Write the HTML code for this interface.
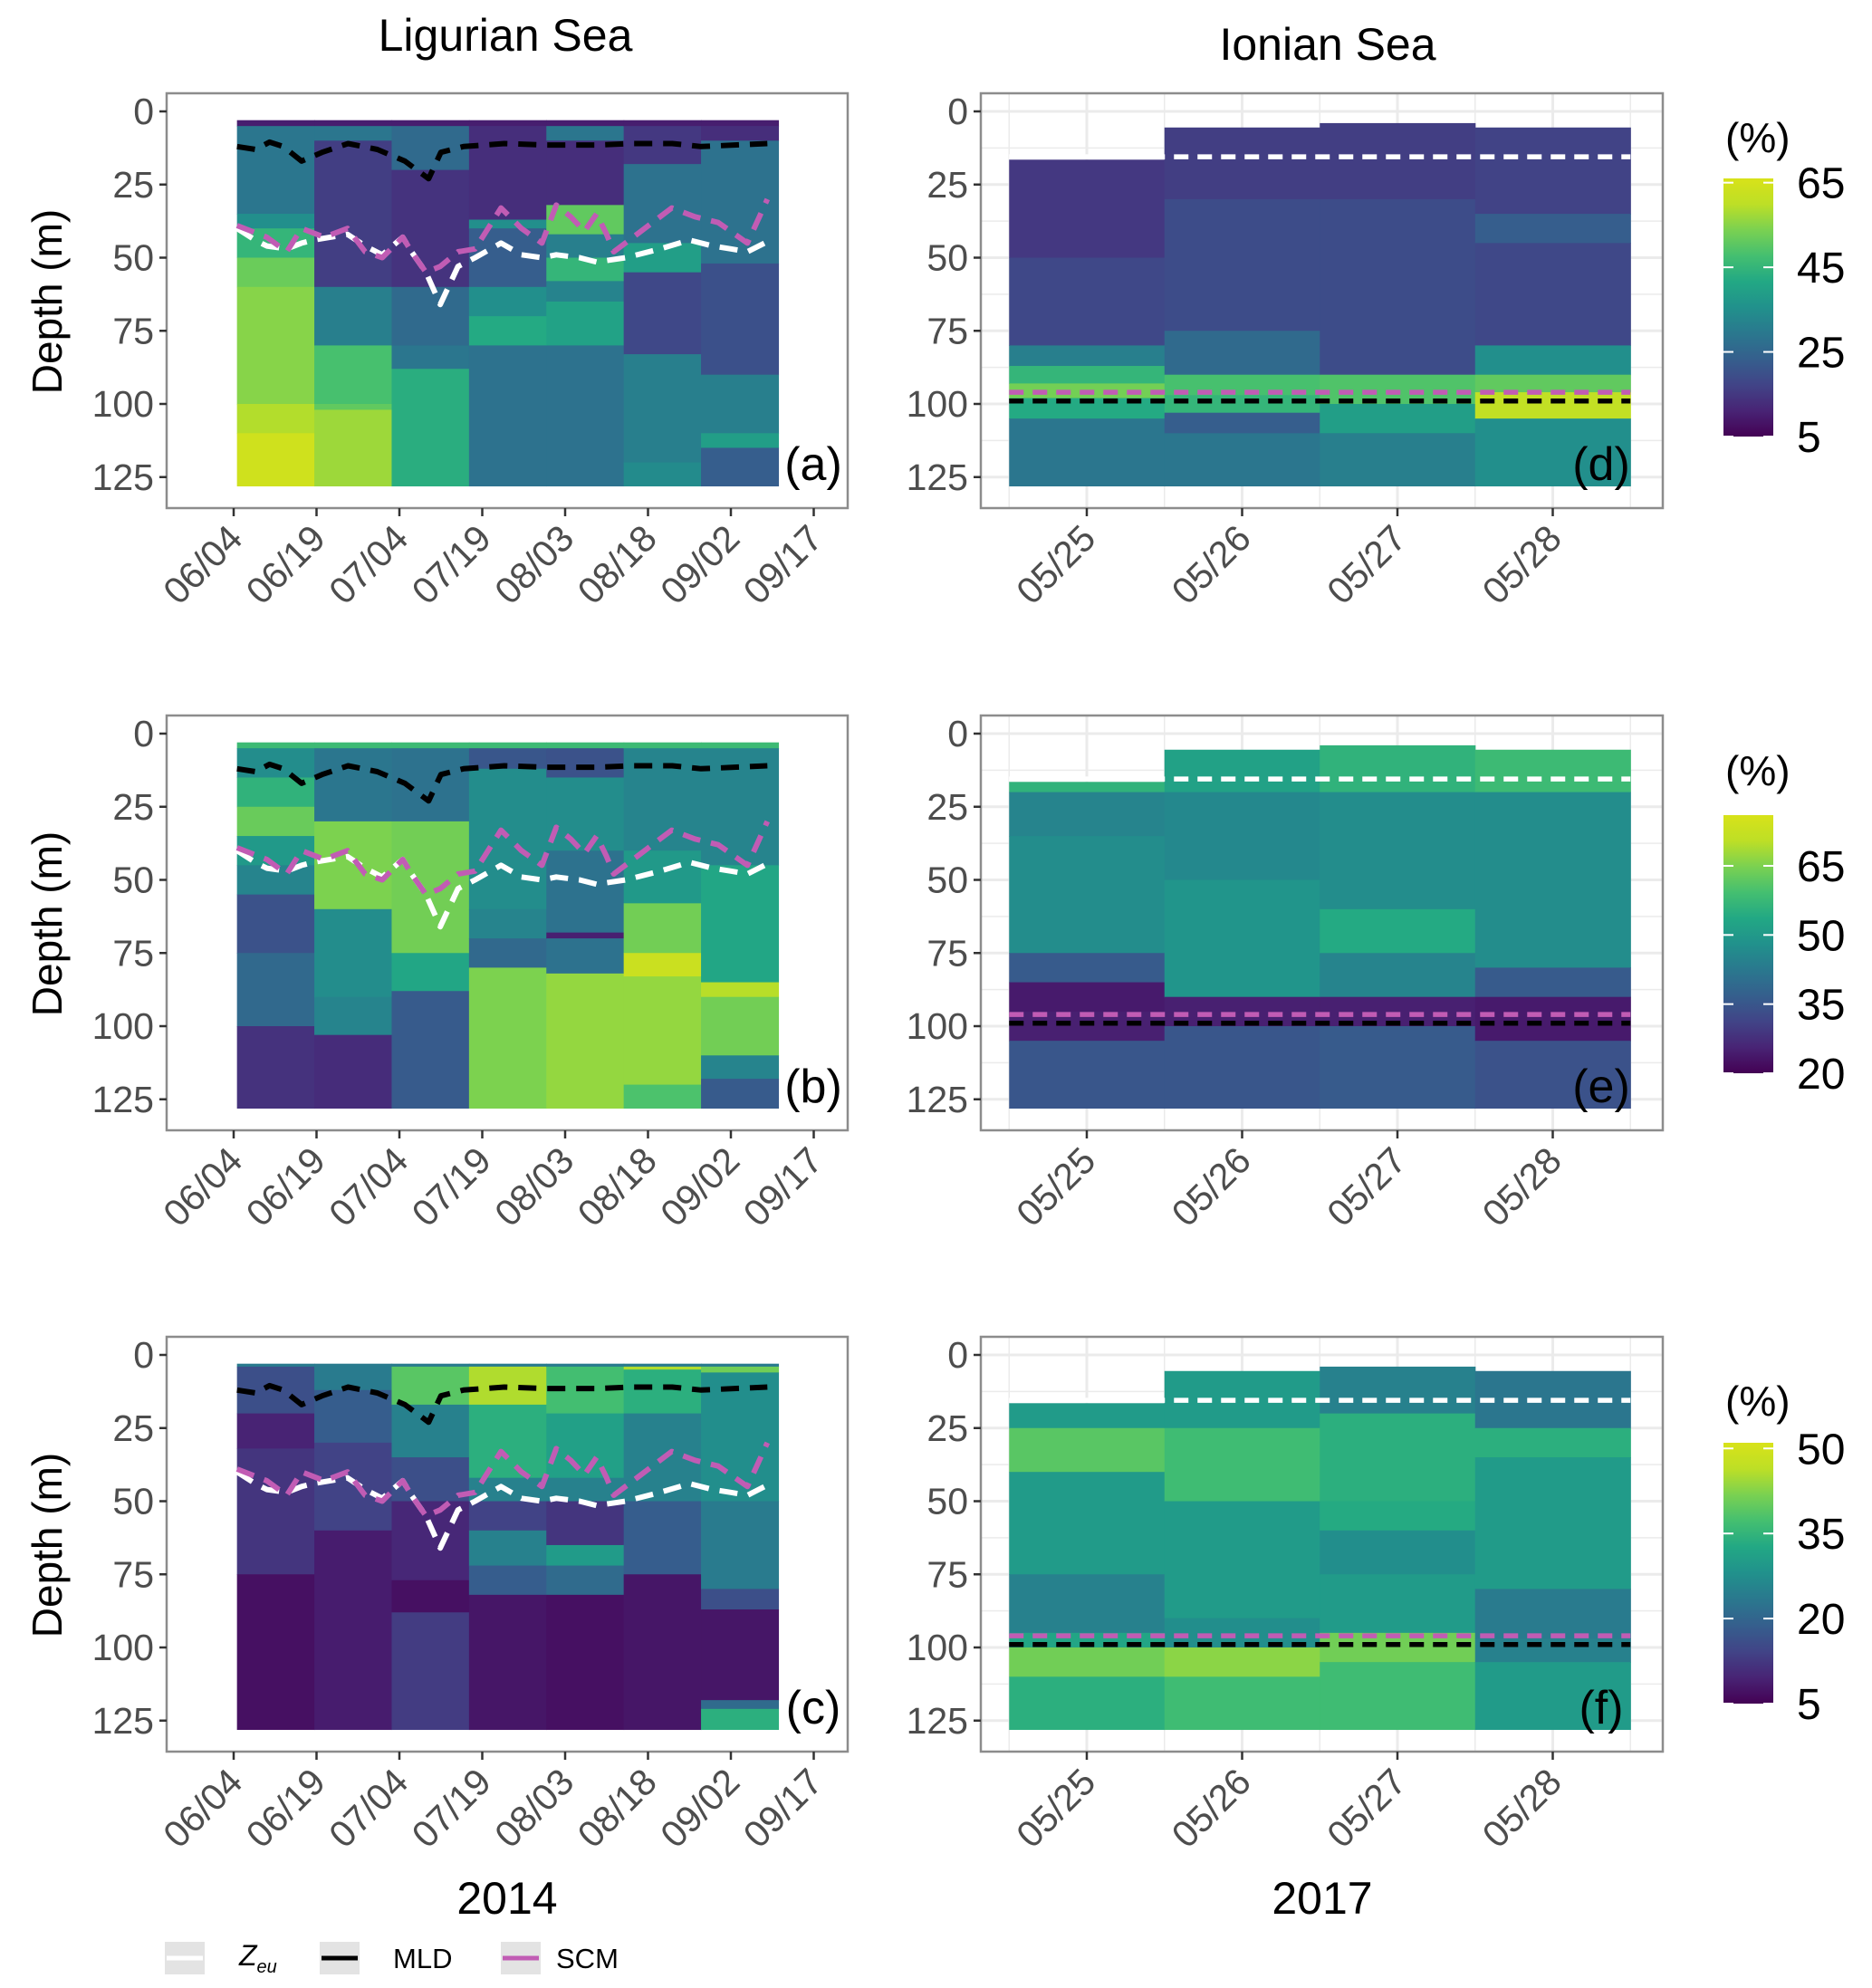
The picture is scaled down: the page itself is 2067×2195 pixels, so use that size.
<!DOCTYPE html>
<html><head><meta charset="utf-8">
<style>
html,body{margin:0;padding:0;background:#fff;}
svg{display:block;font-family:"Liberation Sans",sans-serif;}
</style></head>
<body>
<svg id="fig" xmlns="http://www.w3.org/2000/svg" width="2067" height="2195" viewBox="0 0 2067 2195">
<defs>
<linearGradient id="vir" x1="0" y1="1" x2="0" y2="0">
<stop offset="0" stop-color="#440154"/><stop offset="0.1" stop-color="#482475"/><stop offset="0.2" stop-color="#414487"/><stop offset="0.3" stop-color="#355f8d"/><stop offset="0.4" stop-color="#2a788e"/><stop offset="0.5" stop-color="#21918c"/><stop offset="0.6" stop-color="#22a884"/><stop offset="0.7" stop-color="#44bf70"/><stop offset="0.8" stop-color="#7ad151"/><stop offset="0.9" stop-color="#bddf26"/><stop offset="1" stop-color="#d8e219"/>
</linearGradient>
</defs>
<text x="558" y="56" font-size="50" text-anchor="middle" fill="#000">Ligurian Sea</text>
<text x="1466" y="66" font-size="50" text-anchor="middle" fill="#000">Ionian Sea</text>
<text x="560" y="2113" font-size="50" text-anchor="middle" fill="#000">2014</text>
<text x="1460" y="2113" font-size="50" text-anchor="middle" fill="#000">2017</text>
<g>
<rect x="182" y="2144" width="44" height="36" fill="#e3e3e3"/>
<line x1="184" y1="2162" x2="224" y2="2162" stroke="#fff" stroke-width="5"/>
<text x="264" y="2170" font-size="32" font-style="italic" fill="#000">Z<tspan font-size="20" dy="8">eu</tspan></text>
<rect x="353" y="2144" width="44" height="36" fill="#e3e3e3"/>
<line x1="355" y1="2162" x2="395" y2="2162" stroke="#000" stroke-width="5"/>
<text x="434" y="2173" font-size="31" fill="#000">MLD</text>
<rect x="553" y="2144" width="44" height="36" fill="#e3e3e3"/>
<line x1="555" y1="2162" x2="595" y2="2162" stroke="#c15cb4" stroke-width="5"/>
<text x="614" y="2173" font-size="31" fill="#000">SCM</text>
</g>
</svg>
<script>
// ---------- data ----------
const depthTicks = [0,25,50,75,100,125];
const ligDateLabels = ["06/04","06/19","07/04","07/19","08/03","08/18","09/02","09/17"];
const ionDateLabels = ["05/25","05/26","05/27","05/28"];
const ligColStartDays = [0.6,14.6,28.6,42.6,56.6,70.6,84.6];
const ligColWidthDays = 14;
const ionColDays = [0,1,2,3];
const ionColTops = [16.5,5.5,4,5.5];
const ligColTop = 3;
const colBottom = 128;
const panelLabels = ["(a)","(b)","(c)","(d)","(e)","(f)"];
const scaleMin = [5,20,5];
const scaleMax = [66,76,51];
const cbarTicks1 = [5,25,45,65];
const cbarTicks2 = [20,35,50,65];
const cbarTicks3 = [5,20,35,50];

// heatmap layers: [startDepth, value(%)]
const panelA = [
 [[3,10],[5,29],[35,35],[40,45],[50,52],[60,55],[100,59],[110,64]],
 [[3,10],[5,29],[10,16],[60,31],[80,48],[100,51],[102,57]],
 [[3,10],[5,26],[20,14],[60,26],[80,29],[88,43]],
 [[3,10],[5,13],[37,35],[40,23],[60,35],[70,42],[80,28]],
 [[3,10],[5,29],[10,13],[32,51],[42,31],[50,45],[58,32],[65,40],[80,28]],
 [[3,10],[5,15],[18,28],[45,39],[55,18],[83,31],[120,34]],
 [[3,10],[5,13],[10,28],[52,20],[90,31],[110,39],[115,23]]
];
const panelB = [
 [[3,58],[5,47],[15,56],[25,63],[35,50],[45,45],[55,34],[75,39],[100,28]],
 [[3,58],[5,42],[30,65],[60,47],[90,45],[103,27]],
 [[3,58],[5,41],[30,64],[75,53],[88,36]],
 [[3,58],[5,35],[12,47],[60,45],[70,39],[80,65]],
 [[3,58],[5,34],[15,47],[40,41],[68,25],[70,41],[82,67]],
 [[3,58],[5,45],[40,50],[58,64],[75,73],[83,67],[120,60]],
 [[3,58],[5,45],[45,53],[85,70],[90,64],[110,45],[118,36]]
];
const panelC = [
 [[3,24],[4,16],[20,9.5],[32,12],[75,7]],
 [[3,24],[4,24],[12,18.5],[30,14],[60,8.6]],
 [[3,24],[4,39],[17,25],[35,16],[50,10],[77,7],[88,13]],
 [[3,24],[4,45.5],[17,34],[42,25],[50,14],[60,25],[72,18.5],[82,7.7]],
 [[3,24],[4,37],[20,31],[42,25],[50,12],[65,30],[72,21],[82,7]],
 [[3,24],[4,45.5],[5,34],[20,25],[50,18.5],[75,7.7]],
 [[3,24],[4,41],[6,27.5],[50,24],[80,16],[87,7.7],[118,21],[121,34]]
];
const panelD = [
 [[16.5,15],[50,18],[80,31],[87,45],[93,53],[98,42],[105,29]],
 [[5.5,16],[30,19],[75,26],[90,48],[97,45],[103,23],[110,29]],
 [[4,16],[30,19],[90,49],[100,39],[110,31]],
 [[5.5,17],[35,23],[45,18],[80,35],[90,51],[96,61],[105,35]]
];
const panelE = [
 [[16.5,56],[20,45],[35,47],[75,36],[85,24],[95,25],[105,35]],
 [[5.5,52],[20,46],[50,49],[90,25],[100,35]],
 [[4,56],[20,47],[60,54],[75,45],[90,25],[100,36]],
 [[5.5,58],[20,47],[80,36],[90,24],[105,34]]
];
const panelF = [
 [[16.5,30],[25,39],[40,30],[75,25],[95,32],[100,41],[110,34]],
 [[5.5,30],[25,36.5],[50,30],[90,27.5],[100,43],[110,36.5]],
 [[4,25],[20,34],[50,33],[60,27.5],[75,30],[95,41],[105,36.5]],
 [[5.5,23],[25,34],[35,30],[80,24],[97,25],[105,30]]
];

// Ligurian lines (days since 06/04, depth m)
const zeuDays = [0.6,3.9,6,9.6,12.3,14.4,20.6,23.8,26.9,30.6,32.2,34.8,37.4,40.6,43.7,48.4,52.1,55.8,58.4,62.6,65.7,71,77.2,82.5,86.7,90,93,96.1];
const zeuDepth = [40,44,46,47,45,44,42,46,49,43,48,55,66,53,50,45,49,50,49,50,51.5,50,47,44,46,47,48,45];
const scmDays = [0.6,6,9.6,12.3,16.4,20.6,23.8,26.9,30.6,32.2,34.8,37.4,40.6,43.7,48.4,52.1,55.8,58.4,61,63.5,65.7,67.5,68.8,73,79.3,83.5,87.7,93,96.6];
const scmDepth = [39,43,48,40,43,40,48,50,43,48,55,53,48,47,33,40,45,32,36,41,35,42,48,42,33,36,38,45,30];
const mldDays = [0.6,4,6.5,9,12.3,16,20.7,26,31,35.3,37.5,41.6,49,56.4,65.7,72,79.4,84.6,96.6];
const mldDepth = [12,13,10.5,12,17,14,11,13,17,23,14,12,11,11.5,11.5,11,11,12,11];
// Ionian lines (constant depths)
const ionZeu = 15.5, ionScm = 96, ionMld = 99;

// ---------- drawing ----------
const NS = "http://www.w3.org/2000/svg";
const svg = document.getElementById("fig");
function mk(tag, attrs, parent){ const e=document.createElementNS(NS,tag); for(const k in attrs) e.setAttribute(k,attrs[k]); (parent||svg).appendChild(e); return e; }
const VIR = ["#440154","#482475","#414487","#355f8d","#2a788e","#21918c","#22a884","#44bf70","#7ad151","#bddf26","#d8e219"];
function hex(c){return [parseInt(c.substr(1,2),16),parseInt(c.substr(3,2),16),parseInt(c.substr(5,2),16)];}
function viridis(t){ t=Math.max(0,Math.min(1,t)); const p=t*10, i=Math.min(9,Math.floor(p)), f=p-i; const a=hex(VIR[i]), b=hex(VIR[i+1]); return "rgb("+a.map((v,k)=>Math.round(v+(b[k]-v)*f)).join(",")+")"; }

const rowOff = [0,687,1373];
const FT = 103, FB = 561;
function yS(d,r){ return 123 + 3.23*d + rowOff[r]; }
function xL(day){ return 258 + 6.1*day; }
function xI(day){ return 1200 + 171.5*day; }
const LIG = {l:184,r:936}, ION = {l:1083,r:1836};
const ligPanels=[panelA,panelB,panelC], ionPanels=[panelD,panelE,panelF];
const cbarGeom = [[197,482,152],[900,1185,851],[1593,1881,1547]];
const cbarTickSets = [cbarTicks1,cbarTicks2,cbarTicks3];

function drawYAxis(g, r, left){
  depthTicks.forEach(t=>{
    const y=yS(t,r);
    const tk=mk("line",{x1:left-8,y1:y,x2:left,y2:y,stroke:"#333","stroke-width":2.5},g);
    
    
    const tx=mk("text",{x:left-14,y:y+14,"font-size":41,"text-anchor":"end",fill:"#4d4d4d"},g);
    
    
    tx.textContent=t;
  });
}
function drawXLabels(g, r, xs, labels){
  labels.forEach((lab,i)=>{
    const x=xs[i], y=FB+rowOff[r];
    const tk=mk("line",{x1:x,y1:y,x2:x,y2:y+9,stroke:"#333","stroke-width":2.5},g);
    
    
    const tx=mk("text",{x:x+12,y:y+36,"font-size":41,"text-anchor":"end",fill:"#4d4d4d",transform:"rotate(-45 "+(x+12)+" "+(y+36)+")"},g);
    
    
    tx.textContent=lab;
  });
}
function poly(g, xs, ds, r, xf, color, dash, name){
  const pts=xs.map((d,i)=>xf(d).toFixed(1)+","+yS(ds[i],r).toFixed(1)).join(" ");
  const p=mk("polyline",{points:pts,fill:"none",stroke:color,"stroke-width":6,"stroke-dasharray":dash,"stroke-linejoin":"round"},g);
  
  
}

for(let r=0;r<3;r++){
  const tmin=scaleMin[r], tmax=scaleMax[r];
  const col=v=>viridis((v-tmin)/(tmax-tmin));
  // ---- Ligurian panel ----
  const g=mk("g",{});
  
  
  const fr=mk("rect",{x:LIG.l,y:FT+rowOff[r],width:LIG.r-LIG.l,height:FB-FT,fill:"#fff",stroke:"#8c8c8c","stroke-width":2.5},g);
  
  
  ligPanels[r].forEach((layers,c)=>{
    const x0=xL(ligColStartDays[c]), x1=xL(ligColStartDays[c]+ligColWidthDays);
    layers.forEach((L,k)=>{
      const d0=L[0], d1=k+1<layers.length?layers[k+1][0]:colBottom;
      const rc=mk("rect",{x:x0,y:yS(d0,r),width:x1-x0+0.6,height:yS(d1,r)-yS(d0,r)+0.6,fill:col(L[1])},g);
      
      
    });
  });
  poly(g,zeuDays,zeuDepth,r,xL,"#ffffff","20 12","zeu-line");
  poly(g,scmDays,scmDepth,r,xL,"#c15cb4","20 12","scm-line");
  poly(g,mldDays,mldDepth,r,xL,"#000000","20 12","mld-line");
  drawYAxis(g,r,LIG.l);
  drawXLabels(g,r,ligDateLabels.map((_,i)=>xL(i*15)),ligDateLabels);
  const pl=mk("text",{x:898,y:530+rowOff[r],"font-size":52,"text-anchor":"middle",fill:"#000"},g);
  
  
  pl.textContent=panelLabels[r];
  const yt=mk("text",{x:0,y:0,"font-size":46,"text-anchor":"middle",fill:"#000",transform:"translate(68 "+(333+rowOff[r])+") rotate(-90)"},g);
  
  
  yt.textContent="Depth (m)";

  // ---- Ionian panel ----
  const h=mk("g",{});
  
  
  const fr2=mk("rect",{x:ION.l,y:FT+rowOff[r],width:ION.r-ION.l,height:FB-FT,fill:"#fff"},h);
  
  
  for(let d=-12.5; d<=137.5; d+=12.5){
    const y=yS(d,r); if(y<FT+rowOff[r]||y>FB+rowOff[r]) continue;
    const gl=mk("line",{x1:ION.l,y1:y,x2:ION.r,y2:y,stroke:"#ebebeb","stroke-width":(d%25===0)?3:1.5},h);
    
    
  }
  for(let d=-0.5; d<=3.5; d+=0.5){
    const x=xI(d);
    const gl=mk("line",{x1:x,y1:FT+rowOff[r],x2:x,y2:FB+rowOff[r],stroke:"#ebebeb","stroke-width":(Math.abs(d%1)<0.01)?3:1.5},h);
    
    
  }
  ionPanels[r].forEach((layers,c)=>{
    const x0=xI(ionColDays[c]-0.5), x1=xI(ionColDays[c]+0.5);
    layers.forEach((L,k)=>{
      const d0=L[0], d1=k+1<layers.length?layers[k+1][0]:colBottom;
      const rc=mk("rect",{x:x0,y:yS(d0,r),width:x1-x0+0.6,height:yS(d1,r)-yS(d0,r)+0.6,fill:col(L[1])},h);
      
      
    });
  });
  const ix0=xI(-0.5), ix1=xI(3.5);
  [[ionZeu,"#ffffff","zeu-line"],[ionScm,"#c15cb4","scm-line"],[ionMld,"#000000","mld-line"]].forEach(o=>{
    const ln=mk("line",{x1:ix0,y1:yS(o[0],r),x2:ix1,y2:yS(o[0],r),stroke:o[1],"stroke-width":5.5,"stroke-dasharray":"16 10"},h);
    
    
  });
  const fb=mk("rect",{x:ION.l,y:FT+rowOff[r],width:ION.r-ION.l,height:FB-FT,fill:"none",stroke:"#8c8c8c","stroke-width":2.5},h);
  
  
  drawYAxis(h,r,ION.l);
  drawXLabels(h,r,ionDateLabels.map((_,i)=>xI(i)),ionDateLabels);
  const pl2=mk("text",{x:1768,y:530+rowOff[r],"font-size":52,"text-anchor":"middle",fill:"#000"},h);
  
  
  pl2.textContent=panelLabels[r+3];

  // ---- colorbar ----
  const cg=mk("g",{});
  
  
  const [bt,bb,pt]=cbarGeom[r];
  const ttl=mk("text",{x:1905,y:pt+16,"font-size":46,fill:"#000"},cg);
  
  
  ttl.textContent="(%)";
  const bar=mk("rect",{x:1903,y:bt,width:55,height:bb-bt,fill:"url(#vir)"},cg);
  
  
  cbarTickSets[r].forEach(v=>{
    const y=bb-(v-tmin)/(tmax-tmin)*(bb-bt);
    const t1=mk("line",{x1:1903,y1:y,x2:1914,y2:y,stroke:"#fff","stroke-width":2},cg);
    
    
    const t2=mk("line",{x1:1947,y1:y,x2:1958,y2:y,stroke:"#fff","stroke-width":2},cg);
    
    
    const tl=mk("text",{x:1984,y:y+17,"font-size":48,fill:"#000"},cg);
    
    
    tl.textContent=v;
  });
}
</script>
</body></html>
